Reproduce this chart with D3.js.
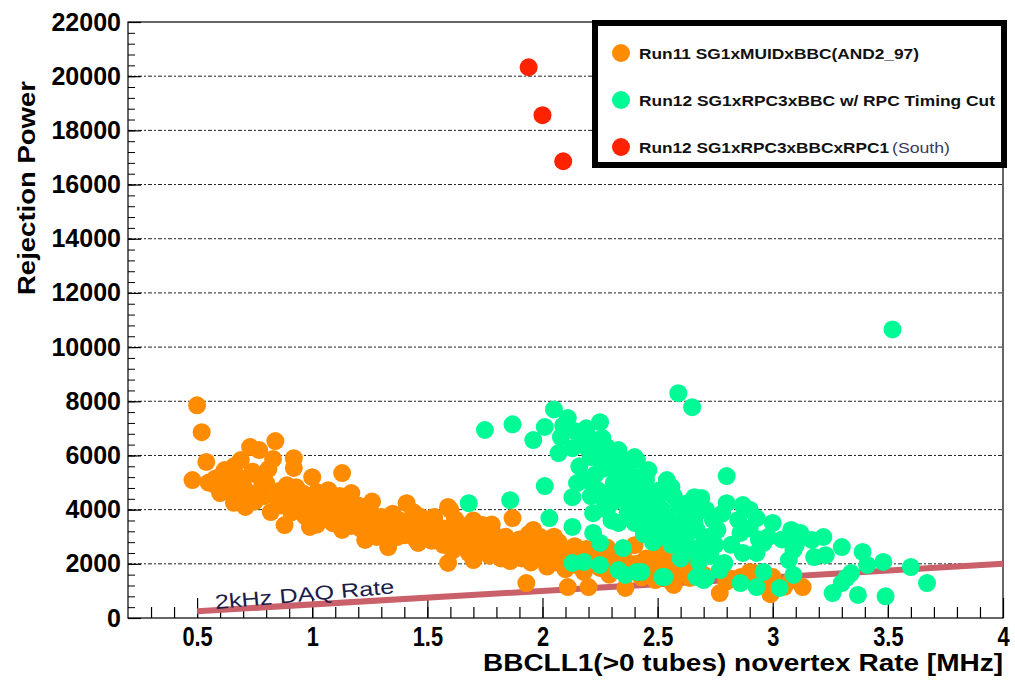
<!DOCTYPE html>
<html>
<head>
<meta charset="utf-8">
<script src="https://cdn.jsdelivr.net/npm/d3@7"></script>
<style>
  body { margin: 0; background: #fff; }
  text { font-family: "Liberation Sans", Arial, sans-serif; }
</style>
</head>
<body>
<script>
// values: [rate MHz, rejection power]
const run11Points = [
  [0.48,5090],[0.50,7850],[0.52,6860],[0.54,5760],[0.55,5000],[0.57,4950],[0.58,5150],[0.60,4610],
  [0.61,5300],[0.62,5460],[0.63,4850],[0.64,5050],[0.65,4700],[0.66,5600],[0.67,4400],[0.68,5200],
  [0.69,5830],[0.70,4900],[0.71,4100],[0.72,4650],[0.73,6310],[0.74,5400],[0.75,4300],[0.76,5280],
  [0.77,6200],[0.78,4800],[0.79,4500],[0.80,4980],[0.81,5500],[0.82,3910],[0.83,5870],[0.84,6530],
  [0.85,4400],[0.86,4700],[0.87,4150],[0.88,3430],[0.89,4900],[0.90,4550],[0.91,3900],[0.92,5900],
  [0.92,5540],[0.93,4830],[0.94,4300],[0.95,4050],[0.96,4600],[0.97,3750],[0.98,4400],[0.99,3360],
  [1.00,5200],[1.00,4150],[1.01,3900],[1.02,4650],[1.03,3600],[1.04,4300],[1.05,4000],[1.06,3700],
  [1.07,4720],[1.08,4400],[1.09,3500],[1.10,4100],[1.11,3870],[1.12,4500],[1.13,5350],[1.13,3250],
  [1.14,4000],[1.15,3700],[1.16,4300],[1.17,4610],[1.17,3400],[1.18,3900],[1.19,3600],[1.20,4150],
  [1.21,3300],[1.22,4100],[1.23,2880],[1.23,3800],[1.24,3550],[1.25,4000],[1.26,3200],[1.27,3700],
  [1.28,2990],[1.29,3450],[1.30,3730],[1.31,3620],[1.32,3100],[1.33,2620],[1.34,3400],[1.35,3850],
  [1.36,3250],[1.37,2990],[1.38,3600],[1.39,3350],[1.40,3050],[1.41,4240],[1.42,3500],[1.43,3620],
  [1.44,3200],[1.45,2900],[1.46,2770],[1.47,3730],[1.47,2880],[1.48,3400],[1.49,3100],[1.50,3550],
  [1.51,3250],[1.52,2850],[1.53,3730],[1.54,3400],[1.55,3000],[1.56,3140],[1.57,2700],[1.58,3300],
  [1.59,4100],[1.59,2030],[1.60,3990],[1.61,2500],[1.62,3200],[1.63,2900],[1.64,3450],[1.65,2650],
  [1.66,2770],[1.67,3100],[1.68,2400],[1.69,3300],[1.70,2140],[1.71,2900],[1.72,2600],[1.73,3050],
  [1.74,3430],[1.75,2500],[1.76,2800],[1.77,2300],[1.78,3200],[1.79,2700],[1.80,2400],[1.81,2950],
  [1.82,2200],[1.83,2650],[1.84,3000],[1.85,2500],[1.86,2100],[1.87,3690],[1.87,2800],[1.88,2350],
  [1.89,2600],[1.90,2900],[1.91,2200],[1.92,2700],[1.93,1290],[1.93,2450],[1.94,3100],[1.95,2050],
  [1.96,2600],[1.97,2350],[1.98,2800],[1.99,2990],[2.00,2200],[2.01,2500],[2.02,1900],[2.03,2700],
  [2.04,2300],[2.05,2550],[2.06,2050],[2.07,2800],[2.08,2620],[2.09,2300],[2.10,1800],[2.11,1140],
  [2.12,2450],[2.13,2150],[2.14,2650],[2.15,1950],[2.16,2400],[2.17,2200],[2.18,1700],[2.19,2550],
  [2.20,1140],[2.21,2000],[2.22,2350],[2.24,2770],[2.25,1850],[2.27,2150],[2.29,1600],[2.31,2250],
  [2.33,1900],[2.35,2450],[2.36,1110],[2.38,1700],[2.40,2690],[2.41,2000],[2.43,1500],[2.45,2200],
  [2.47,1800],[2.48,2250],[2.49,1400],[2.51,2000],[2.53,1650],[2.55,1880],[2.56,1330],[2.57,1220],
  [2.58,2100],[2.60,1700],[2.61,2030],[2.63,1660],[2.64,1480],[2.66,1900],[2.70,1600],[2.77,920],
  [2.80,1350],[2.82,1450],[2.86,1510],[2.90,1700],[2.92,1660],[2.95,1300],[2.99,880],[3.00,1510],
  [3.05,1150],[3.08,1400],[3.13,1140],
  [0.66,4250],[0.74,4450],[0.90,4200],[1.02,3450],[1.15,4450],[1.26,4300],[1.44,3900],[1.62,3650],
  [1.70,3600],[1.78,3450],[1.96,3250],[2.05,3000],[2.28,2600],[2.37,2050],[2.52,2400]
]

const run12Points = [
  [3.52,10650],[2.59,8300],[2.65,7780],
  [1.75,6940],[1.87,7150],[1.96,6570],[2.05,7700],[2.01,7050],[2.11,7380],[2.07,6090],[2.08,6680],
  [2.25,7230],[2.18,6830],[2.26,6640],[2.13,6270],[2.21,5940],[2.15,4980],[2.13,4460],[2.24,4720],
  [2.30,5570],[2.37,5350],[2.34,4720],[2.22,3870],[2.28,3990],[2.33,3510],[2.22,3140],[2.25,2770],
  [2.35,2580],[2.13,2030],[2.18,2070],[2.25,1960],[2.33,1770],[2.36,1590],[2.41,1700],[2.40,5940],
  [2.35,5170],[2.41,4350],[2.40,3510],[2.13,3360],[1.68,4240],[1.86,4350],[2.01,4870],[2.03,3690],
  [2.19,5090],[2.25,5830],[2.28,6310],[2.20,6680],[2.46,5460],[2.54,5090],[2.51,4720],[2.46,4610],
  [2.40,4100],[2.53,3360],[2.51,2990],[2.63,4240],[2.66,4460],[2.67,3250],[2.67,2400],[2.67,1510],
  [2.53,1510],[2.41,5830],[2.56,4830],[2.43,4720],[2.50,4350],[2.59,4240],[2.61,4100],[2.69,4430],
  [2.67,3870],[2.74,3620],[2.80,4240],[2.87,4170],[2.85,3620],[2.93,3690],[3.00,3510],[3.08,3250],
  [2.98,2990],[2.86,3140],[2.76,3250],[2.72,2990],[2.63,3140],[2.54,2990],[2.50,3250],[2.64,2620],
  [2.70,2770],[2.68,2070],[2.87,2400],[2.93,2400],[2.96,2770],[3.09,2510],[3.07,2140],[2.79,2030],
  [2.77,1770],[2.71,1480],[2.43,1700],[2.86,1290],[2.93,1140],[2.96,1700],[3.03,1110],[3.09,1590],
  [2.80,5240],[3.13,2990],[3.22,2990],[3.30,2620],[3.23,2320],[3.18,2250],[3.12,3140],[3.17,2880],
  [3.10,2690],[3.39,2440],[3.41,1960],[3.48,2070],[3.60,1880],[3.67,1290],[3.34,1660],[3.30,1290],
  [3.26,920],[3.37,850],[3.49,800],[3.32,1480],[2.61,2620],[2.52,1510],[2.70,1400],[2.78,1960],
  [2.23,5300],[2.27,4300],[2.31,5000],[2.29,6000],[2.33,6200],[2.36,5800],[2.38,4900],[2.42,5200],
  [2.44,4000],[2.47,4300],[2.49,3800],[2.55,3700],[2.57,4500],[2.58,3500],[2.62,3700],[2.20,6200],
  [2.16,5600],[2.19,7000],[2.09,7100],[2.14,6900],[2.23,6400],[2.31,4300],[2.37,3900],[2.44,3100],
  [2.48,2800],[2.56,2700],[2.60,2200],[2.73,2300],[2.82,2700],[2.90,3300],[2.94,2900],[3.04,2900],
  [2.66,3500],[2.71,4000],
  [2.26,5500],[2.32,5400],[2.27,4600],[2.35,4450],[2.45,5100],[2.52,4000],[2.30,3600],[2.46,3550],
  [2.58,3100],[2.64,3950],[2.78,3850],[2.90,4000],[2.75,2700],[2.21,4500],[2.17,6400]
]

const run12Rpc1Points = [[1.94,20330],[2.00,18560],[2.09,16860]]

// 2 kHz DAQ limit: rejection = rate / 2kHz
const daqRate = [[0.5,250],[4.0,2000]]

const xTicks = [0.5, 1, 1.5, 2, 2.5, 3, 3.5, 4]
const yTicks = [0, 2000, 4000, 6000, 8000, 10000, 12000, 14000, 16000, 18000, 20000, 22000]

const legendItems = [
  {label: 'Run11 SG1xMUIDxBBC(AND2_97)', extra: '', color: '#ff8c00', len: 280},
  {label: 'Run12 SG1xRPC3xBBC w/ RPC Timing Cut', extra: '', color: '#00fa96', len: 356},
  {label: 'Run12 SG1xRPC3xBBCxRPC1', extra: '(South)', color: '#ff2200', len: 250}
]

const width = 1015
const height = 680

const x = d3.scaleLinear().domain([0.2, 4]).range([128, 1003])
const y = d3.scaleLinear().domain([0, 22000]).range([618, 22])

const svg = d3.select('body').append('svg')
    .attr('width', width)
    .attr('height', height)

// dashed grid
svg.append('g')
  .selectAll('line')
  .data(yTicks.filter((d) => d > 0 && d < 22000))
  .enter().append('line')
    .attr('x1', x(0.2)).attr('x2', x(4))
    .attr('y1', (d) => y(d)).attr('y2', (d) => y(d))
    .attr('stroke', '#222')
    .attr('stroke-width', 1)
    .attr('stroke-dasharray', '4,2,2,2')

// frame
svg.append('rect')
  .attr('x', x(0.2)).attr('y', y(22000))
  .attr('width', x(4) - x(0.2)).attr('height', y(0) - y(22000))
  .attr('fill', 'none').attr('stroke', '#000').attr('stroke-width', 1.2)

// x axis, ticks pointing into the plot
const xAxis = svg.append('g')
  .attr('transform', `translate(0, ${y(0)})`)
  .call(d3.axisBottom(x).tickValues(xTicks).tickSize(-20).tickPadding(8)
    .tickFormat((d) => String(d)))
xAxis.select('.domain').remove()
xAxis.selectAll('line').attr('stroke', '#000').attr('stroke-width', 1.2)
xAxis.selectAll('text')
  .attr('font-size', 28).attr('font-weight', 'bold').attr('fill', '#000')
  .attr('transform', 'scale(0.78,1)')

const xMinor = svg.append('g')
  .attr('transform', `translate(0, ${y(0)})`)
  .call(d3.axisBottom(x).tickValues(d3.range(3, 40).map((d) => d / 10)).tickSize(-11).tickFormat(''))
xMinor.select('.domain').remove()
xMinor.selectAll('line').attr('stroke', '#000').attr('stroke-width', 1.2)

// y axis
const yAxis = svg.append('g')
  .attr('transform', `translate(${x(0.2)}, 0)`)
  .call(d3.axisLeft(y).tickValues(yTicks).tickSize(-13).tickPadding(7).tickFormat(d3.format('d')))
yAxis.select('.domain').remove()
yAxis.selectAll('line').attr('stroke', '#000').attr('stroke-width', 1.2)
yAxis.selectAll('text')
  .attr('font-size', 25).attr('font-weight', 'bold').attr('fill', '#000')

const yMinor = svg.append('g')
  .attr('transform', `translate(${x(0.2)}, 0)`)
  .call(d3.axisLeft(y).tickValues(d3.range(0, 22001, 400)).tickSize(-7).tickFormat(''))
yMinor.select('.domain').remove()
yMinor.selectAll('line').attr('stroke', '#000').attr('stroke-width', 1)

// axis titles
svg.append('text')
  .attr('x', 1003).attr('y', 671)
  .attr('text-anchor', 'end')
  .attr('font-size', 24).attr('font-weight', 'bold')
  .attr('textLength', 520).attr('lengthAdjust', 'spacingAndGlyphs')
  .text('BBCLL1(>0 tubes) novertex Rate [MHz]')

svg.append('text')
  .attr('transform', 'translate(35, 295) rotate(-90)')
  .attr('font-size', 24).attr('font-weight', 'bold')
  .attr('textLength', 214).attr('lengthAdjust', 'spacingAndGlyphs')
  .text('Rejection Power')

// DAQ rate line
const line = d3.line().x((d) => x(d[0])).y((d) => y(d[1]))
svg.append('path')
  .datum(daqRate)
  .attr('d', line)
  .attr('fill', 'none')
  .attr('stroke', '#c9606a')
  .attr('stroke-width', 6)

svg.append('text')
  .attr('transform', `translate(${x(0.58)}, ${y(330)}) rotate(-5)`)
  .attr('font-size', 20)
  .attr('fill', '#1c1c4a')
  .attr('textLength', 180).attr('lengthAdjust', 'spacingAndGlyphs')
  .text('2kHz DAQ Rate')

// points
const series = [
  {data: run11Points, color: '#ff8c00'},
  {data: run12Points, color: '#00fa96'},
  {data: run12Rpc1Points, color: '#ff2200'}
]
series.forEach((s) => {
  svg.append('g')
    .selectAll('circle')
    .data(s.data)
    .enter().append('circle')
      .attr('cx', (d) => x(d[0]))
      .attr('cy', (d) => y(d[1]))
      .attr('r', 9)
      .attr('fill', s.color)
})

// legend
const legend = svg.append('g')
legend.append('rect')
  .attr('x', 595).attr('y', 23)
  .attr('width', 409).attr('height', 142)
  .attr('fill', '#fff').attr('stroke', '#000').attr('stroke-width', 6)

const rows = legend.selectAll('.row')
  .data(legendItems)
  .enter().append('g')
    .attr('class', 'row')
    .attr('transform', (d, i) => `translate(621, ${53 + i * 47})`)

rows.append('circle').attr('r', 9).attr('fill', (d) => d.color)
rows.append('text')
  .attr('x', 18).attr('y', 6)
  .attr('font-size', 15).attr('font-weight', 'bold').attr('fill', '#111')
  .attr('textLength', (d) => d.len).attr('lengthAdjust', 'spacingAndGlyphs')
  .text((d) => d.label)
rows.filter((d) => d.extra)
  .append('text')
  .attr('x', (d) => 18 + d.len + 3).attr('y', 6)
  .attr('font-size', 15).attr('fill', '#3a3a5c')
  .attr('textLength', 58).attr('lengthAdjust', 'spacingAndGlyphs')
  .text((d) => d.extra)
</script>
</body>
</html>
